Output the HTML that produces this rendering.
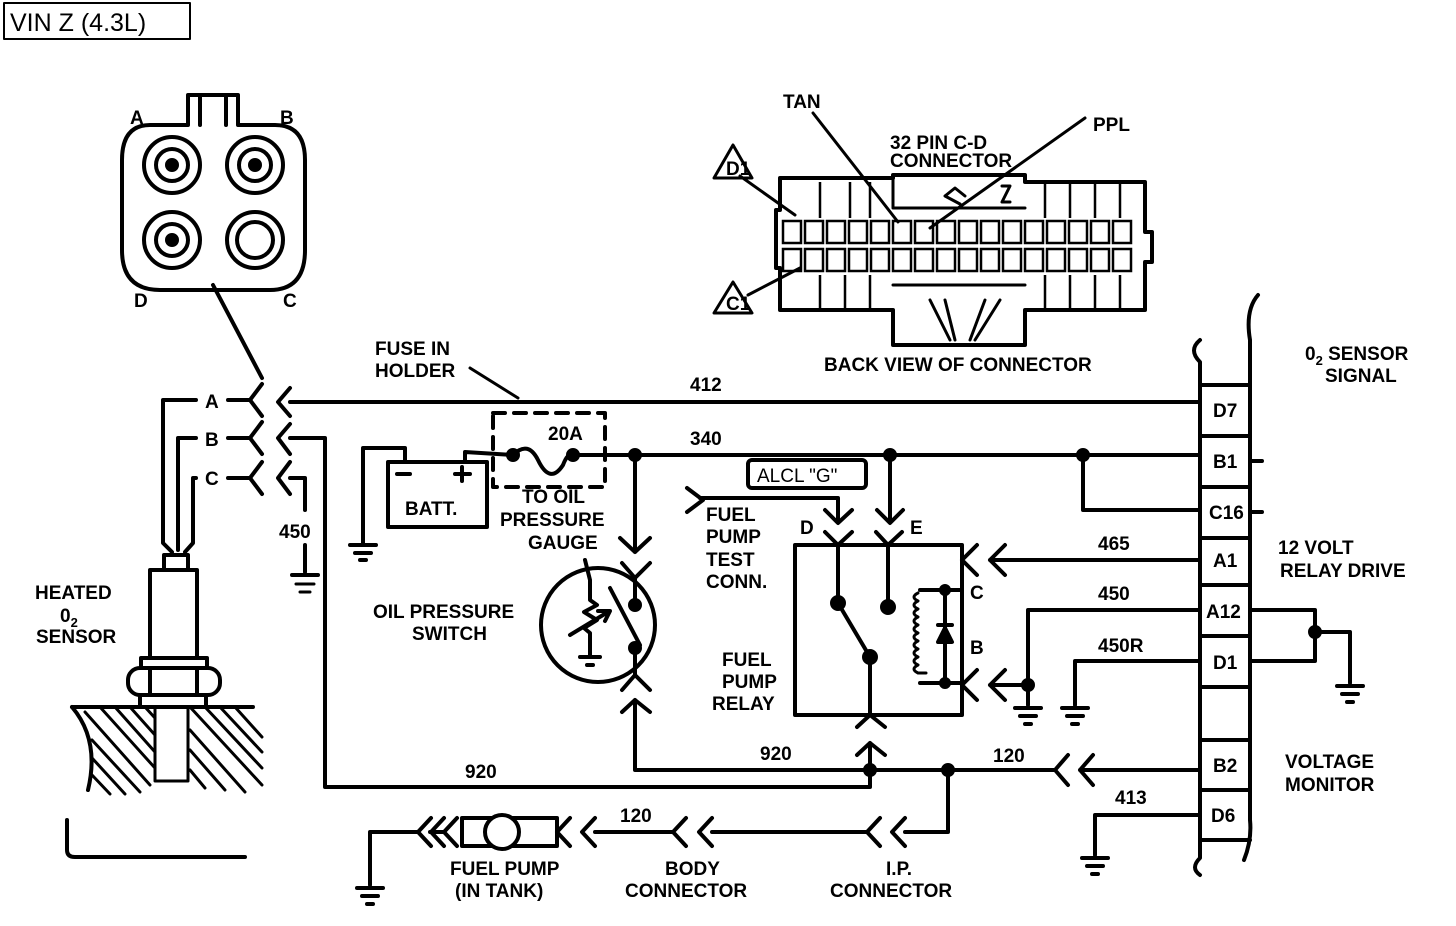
<!DOCTYPE html>
<html><head><meta charset="utf-8"><style>
html,body{margin:0;padding:0;background:#fff}
svg{display:block}
text{font-family:"Liberation Sans",sans-serif;font-weight:bold;font-size:19px;fill:#000}
</style></head><body>
<svg width="1456" height="926" viewBox="0 0 1456 926" xmlns="http://www.w3.org/2000/svg">
<g fill="none" stroke="#000" stroke-width="4" stroke-linecap="round" stroke-linejoin="round">
<rect x="4" y="3" width="186" height="36" stroke-width="2"/>
<path d="M150 125 L188 125 L188 95 L238 95 L238 125 L275 125 Q305 125 305 160 L305 250 Q305 290 270 290 L160 290 Q122 290 122 250 L122 160 Q122 125 150 125Z"/>
<line x1="200" y1="95" x2="200" y2="125"/><line x1="226" y1="95" x2="226" y2="125"/>
<circle cx="172" cy="165" r="28"/><circle cx="172" cy="165" r="16"/><circle cx="172" cy="165" r="5" fill="#000"/>
<circle cx="255" cy="165" r="28"/><circle cx="255" cy="165" r="16"/><circle cx="255" cy="165" r="5" fill="#000"/>
<circle cx="172" cy="240" r="28"/><circle cx="172" cy="240" r="16"/><circle cx="172" cy="240" r="5" fill="#000"/>
<circle cx="255" cy="240" r="28"/><circle cx="255" cy="240" r="18"/>
<line x1="213" y1="285" x2="262" y2="378"/>
<path d="M228 400 L250 400 M262 384 L250 400 L262 416 M290 388 L278 402 L290 416"/>
<path d="M228 438 L250 438 M262 422 L250 438 L262 454 M290 424 L278 438 L290 454"/>
<path d="M228 478 L250 478 M262 462 L250 478 L262 494 M290 462 L278 478 L290 494"/>
<path d="M196 400 L163 400 L163 543 L172 552"/>
<path d="M196 438 L178 438 L178 550"/>
<path d="M196 478 L193 478 L193 543 L185 552"/>
<rect x="164" y="555" width="24" height="15"/>
<rect x="150" y="570" width="47" height="88"/>
<rect x="141" y="658" width="66" height="10"/>
<rect x="128" y="668" width="92" height="27" rx="12"/>
<line x1="150" y1="668" x2="150" y2="695"/><line x1="197" y1="668" x2="197" y2="695"/>
<rect x="140" y="695" width="66" height="12"/>
<line x1="72" y1="707" x2="253" y2="707"/>
<rect x="155" y="707" width="33" height="74" stroke-width="3"/>
<path d="M72 707 Q100 740 88 790" />
<g stroke-width="3">
<path d="M85 712 L150 785 M100 707 L155 768 M115 707 L155 752 M130 707 L155 735 M145 707 L155 718 M190 707 L262 785 M205 707 L262 768 M220 707 L262 752 M235 707 L262 737 M92 740 L140 792 M92 758 L125 794 M92 775 L110 794 M190 730 L245 792 M190 750 L225 790 M190 770 L205 788"/>
</g>
<path d="M67 820 L67 850 Q67 857 75 857 L245 857"/>
<line x1="290" y1="402" x2="1200" y2="402"/>
<line x1="470" y1="368" x2="518" y2="398" stroke-width="3"/>
<path d="M290 438 L325 438 L325 787 L870 787 L870 770"/>
<path d="M290 478 L305 478 L305 510 M305 545 L305 572 M292 575 L318 575"/>
<path d="M296 584 L314 584 M300 592 L310 592" stroke-width="3"/>
<rect x="388" y="462" width="99" height="65"/>
<path d="M405 462 L405 448 L363 448 L363 545 M350 545 L376 545 M355 553 L371 553 M360 560 L366 560"/>
<path d="M397 474 L410 474 M455 474 L470 474 M462 467 L462 481"/>
<path d="M465 462 L465 452 L513 455"/>
<rect x="493" y="413" width="112" height="74" stroke-dasharray="12,9"/>
<path d="M513 455 Q528 440 538 460 Q550 485 563 465 Q568 452 573 455"/>
<circle cx="513" cy="455" r="5" fill="#000"/><circle cx="573" cy="455" r="5" fill="#000"/>
<line x1="573" y1="455" x2="1200" y2="455"/>
<circle cx="635" cy="455" r="5" fill="#000"/><circle cx="890" cy="455" r="5" fill="#000"/><circle cx="1083" cy="455" r="5" fill="#000"/>
<path d="M1083 455 L1083 510 L1200 510"/>
<path d="M635 455 L635 552 M620 538 L635 552 L650 538"/>
<path d="M622 563 L635 578 L650 563 M635 578 L635 605"/>
<circle cx="635" cy="605" r="5" fill="#000"/><circle cx="635" cy="648" r="5" fill="#000"/>
<path d="M635 648 L635 675 M622 690 L635 675 L650 690"/>
<path d="M622 712 L635 700 L650 712 M635 700 L635 770 L1055 770"/>
<path d="M610 588 L640 645"/>
<circle cx="598" cy="625" r="57"/>
<path d="M585 560 L590 580 L590 600 L597 605 L584 612 L597 620 L584 628 L590 633 L590 657 M580 657 L600 657 M587 665 L593 665"/>
<path d="M570 635 L608 612 M598 611 L610 611 L605 621"/>
<rect x="748" y="460" width="118" height="28" rx="4"/>
<path d="M700 498 L838 498 L838 520 M825 510 L838 523 L852 510"/>
<path d="M687 488 L703 500 L687 512"/>
<path d="M890 455 L890 520 M877 510 L890 523 L903 510"/>
<path d="M825 532 L838 545 L852 532 M876 532 L888 545 L902 532"/>
<rect x="795" y="545" width="167" height="170"/>
<path d="M838 545 L838 603 L870 657 L870 715"/>
<circle cx="838" cy="603" r="6" fill="#000"/><circle cx="870" cy="657" r="6" fill="#000"/>
<path d="M888 545 L888 607"/><circle cx="888" cy="607" r="6" fill="#000"/>
<path d="M920 590 L948 590 M920 683 L962 683 M948 590 L962 590 M945 590 L945 683"/>
<path d="M918 593 q-8 4 0 8 q-8 4 0 8 q-8 4 0 8 q-8 4 0 8 q-8 4 0 8 q-8 4 0 8 q-8 4 0 8 q-8 4 0 8 q-8 4 0 8 q-8 4 0 8 l8 0" stroke-width="3"/>
<path d="M938 625 L952 625 M938 642 L945 628 L952 642Z" fill="#000"/>
<circle cx="945" cy="590" r="4" fill="#000"/><circle cx="945" cy="683" r="4" fill="#000"/>
<path d="M857 727 L870 715 L885 727 M857 755 L870 743 L885 755 M870 743 L870 770"/>
<circle cx="870" cy="770" r="5" fill="#000"/><circle cx="948" cy="770" r="5" fill="#000"/>
<path d="M977 545 L962 560 L977 575 M1005 545 L990 560 L1005 575 M990 560 L1200 560"/>
<path d="M977 670 L962 685 L977 700 M1005 670 L990 685 L1005 700 M990 685 L1028 685 L1028 610 L1200 610"/>
<circle cx="1028" cy="685" r="5" fill="#000"/>
<path d="M1028 685 L1028 705 M1015 708 L1041 708 M1020 716 L1036 716 M1025 724 L1031 724"/>
<path d="M1075 705 L1075 661 L1200 661 M1062 708 L1088 708 M1067 716 L1083 716 M1072 724 L1078 724"/>
<path d="M1068 755 L1055 770 L1068 785 M1093 755 L1080 770 L1093 785 M1080 770 L1200 770"/>
<path d="M948 770 L948 832 L905 832"/>
<path d="M905 818 L892 832 L905 846 M880 818 L867 832 L880 846 M867 832 L712 832"/>
<path d="M712 818 L699 832 L712 846 M686 818 L673 832 L686 846 M673 832 L595 832"/>
<path d="M595 818 L582 832 L595 846 M570 818 L557 832 L570 846"/>
<rect x="462" y="818" width="95" height="28"/><circle cx="502" cy="832" r="17" fill="#fff"/>
<path d="M457 818 L444 832 L457 846 M444 832 L430 832 M444 818 L431 832 L444 846 M431 818 L418 832 L431 846 M418 832 L370 832 L370 885 M357 888 L383 888 M362 896 L378 896 M367 904 L373 904"/>
<path d="M1095 855 L1095 815 L1200 815 M1082 858 L1108 858 M1087 866 L1103 866 M1092 874 L1098 874"/>
<path d="M1250 610 L1315 610 L1315 661 L1250 661 M1315 632 L1350 632 L1350 683 M1337 686 L1363 686 M1342 694 L1358 694 M1347 702 L1353 702"/>
<circle cx="1315" cy="632" r="5" fill="#000"/>
<path d="M1250 461 L1262 461 M1250 512 L1262 512"/>
<path d="M1200 340 Q1188 350 1200 362 L1200 858 Q1190 868 1200 875"/>
<path d="M1250 340 Q1245 310 1258 295 M1250 340 L1250 820 Q1252 840 1244 860"/>
<path d="M1200 385 L1250 385 M1200 436 L1250 436 M1200 487 L1250 487 M1200 538 L1250 538 M1200 585 L1250 585 M1200 636 L1250 636 M1200 687 L1250 687 M1200 740 L1250 740 M1200 790 L1250 790 M1200 840 L1250 840"/>
<path d="M780 178 L893 178 L893 175 L1025 175 L1025 182 L1145 182 L1145 232 L1152 232 L1152 262 L1145 262 L1145 310 L1025 310 L1025 345 L893 345 L893 310 L780 310 L780 268 L776 268 L776 210 L780 210Z"/>
<path d="M893 175 L893 208 L1025 208" stroke-width="3"/>
<path d="M893 285 L1025 285" stroke-width="3"/>
<path d="M930 300 L950 340 M945 300 L955 340 M985 300 L970 340 M1000 300 L975 340" stroke-width="3"/>
<path d="M945 196 L955 188 L965 196 M945 196 L960 204" stroke-width="3"/>
<path d="M1002 186 L1010 186 L1002 202 L1010 202" stroke-width="3"/>
<line x1="740" y1="176" x2="795" y2="215" stroke-width="3"/>
<line x1="748" y1="295" x2="800" y2="268" stroke-width="3"/>
<line x1="813" y1="113" x2="898" y2="222" stroke-width="3"/>
<line x1="1085" y1="118" x2="930" y2="228" stroke-width="3"/>
<path d="M733 145 L752 178 L714 178Z" stroke-width="3"/>
<path d="M733 282 L752 313 L714 313Z" stroke-width="3"/>
</g>
<g fill="none" stroke="#000" stroke-width="2.5">
<rect x="783" y="221" width="18" height="22"/><rect x="805" y="221" width="18" height="22"/><rect x="827" y="221" width="18" height="22"/><rect x="849" y="221" width="18" height="22"/><rect x="871" y="221" width="18" height="22"/><rect x="893" y="221" width="18" height="22"/><rect x="915" y="221" width="18" height="22"/><rect x="937" y="221" width="18" height="22"/><rect x="959" y="221" width="18" height="22"/><rect x="981" y="221" width="18" height="22"/><rect x="1003" y="221" width="18" height="22"/><rect x="1025" y="221" width="18" height="22"/><rect x="1047" y="221" width="18" height="22"/><rect x="1069" y="221" width="18" height="22"/><rect x="1091" y="221" width="18" height="22"/><rect x="1113" y="221" width="18" height="22"/>
<rect x="783" y="249" width="18" height="22"/><rect x="805" y="249" width="18" height="22"/><rect x="827" y="249" width="18" height="22"/><rect x="849" y="249" width="18" height="22"/><rect x="871" y="249" width="18" height="22"/><rect x="893" y="249" width="18" height="22"/><rect x="915" y="249" width="18" height="22"/><rect x="937" y="249" width="18" height="22"/><rect x="959" y="249" width="18" height="22"/><rect x="981" y="249" width="18" height="22"/><rect x="1003" y="249" width="18" height="22"/><rect x="1025" y="249" width="18" height="22"/><rect x="1047" y="249" width="18" height="22"/><rect x="1069" y="249" width="18" height="22"/><rect x="1091" y="249" width="18" height="22"/><rect x="1113" y="249" width="18" height="22"/>
<path d="M820 182 L820 218 M850 182 L850 218 M870 182 L870 218 M1045 182 L1045 218 M1070 182 L1070 218 M1095 182 L1095 218 M1120 182 L1120 218 M820 275 L820 308 M845 275 L845 308 M870 275 L870 308 M1045 275 L1045 308 M1070 275 L1070 308 M1095 275 L1095 308 M1120 275 L1120 308"/>
</g>
<text x="10" y="31" style="font-weight:normal;font-size:25px">VIN Z (4.3L)</text>
<text x="130" y="124" font-size="17">A</text><text x="280" y="124" font-size="17">B</text>
<text x="134" y="307" font-size="17">D</text><text x="283" y="307" font-size="17">C</text>
<text x="205" y="408" font-size="17">A</text><text x="205" y="446" font-size="17">B</text><text x="205" y="485" font-size="17">C</text>
<text x="35" y="599">HEATED</text><text x="60" y="622">0<tspan font-size="13" dy="5">2</tspan></text><text x="36" y="643">SENSOR</text>
<text x="279" y="538">450</text>
<text x="375" y="355">FUSE IN</text><text x="375" y="377">HOLDER</text>
<text x="690" y="391">412</text><text x="690" y="445">340</text>
<text x="548" y="440">20A</text>
<text x="405" y="515">BATT.</text>
<text x="522" y="503">TO OIL</text><text x="500" y="526">PRESSURE</text><text x="528" y="549">GAUGE</text>
<text x="373" y="618">OIL PRESSURE</text><text x="412" y="640">SWITCH</text>
<text x="757" y="482" font-size="17" style="font-weight:normal">ALCL "G"</text>
<text x="706" y="521">FUEL</text><text x="706" y="543">PUMP</text><text x="706" y="566">TEST</text><text x="706" y="588">CONN.</text>
<text x="800" y="534">D</text><text x="910" y="534">E</text>
<text x="722" y="666">FUEL</text><text x="722" y="688">PUMP</text><text x="712" y="710">RELAY</text>
<text x="970" y="599">C</text><text x="970" y="654">B</text>
<text x="1098" y="550">465</text><text x="1098" y="600">450</text><text x="1098" y="652">450R</text>
<text x="760" y="760">920</text><text x="465" y="778">920</text><text x="993" y="762">120</text><text x="1115" y="804">413</text>
<text x="620" y="822">120</text>
<text x="450" y="875">FUEL PUMP</text><text x="455" y="897">(IN TANK)</text>
<text x="665" y="875">BODY</text><text x="625" y="897">CONNECTOR</text>
<text x="886" y="875">I.P.</text><text x="830" y="897">CONNECTOR</text>
<text x="1213" y="417" font-size="17">D7</text><text x="1213" y="468" font-size="17">B1</text><text x="1209" y="519" font-size="17">C16</text>
<text x="1213" y="567" font-size="17">A1</text><text x="1206" y="618" font-size="17">A12</text><text x="1213" y="669" font-size="17">D1</text>
<text x="1213" y="772" font-size="17">B2</text><text x="1211" y="822" font-size="17">D6</text>
<text x="1305" y="360">0<tspan font-size="13" dy="5">2</tspan><tspan dy="-5"> SENSOR</tspan></text><text x="1325" y="382">SIGNAL</text>
<text x="1278" y="554">12 VOLT</text><text x="1280" y="577">RELAY DRIVE</text>
<text x="1285" y="768">VOLTAGE</text><text x="1285" y="791">MONITOR</text>
<text x="783" y="108" font-size="18">TAN</text><text x="1093" y="131" font-size="17">PPL</text>
<text x="890" y="149" font-size="15">32 PIN C-D</text><text x="890" y="167" font-size="15">CONNECTOR</text>
<text x="824" y="371" font-size="17">BACK VIEW OF CONNECTOR</text>
<text x="726" y="175" font-size="9">D1</text><text x="726" y="310" font-size="9">C1</text>
</svg>
</body></html>
